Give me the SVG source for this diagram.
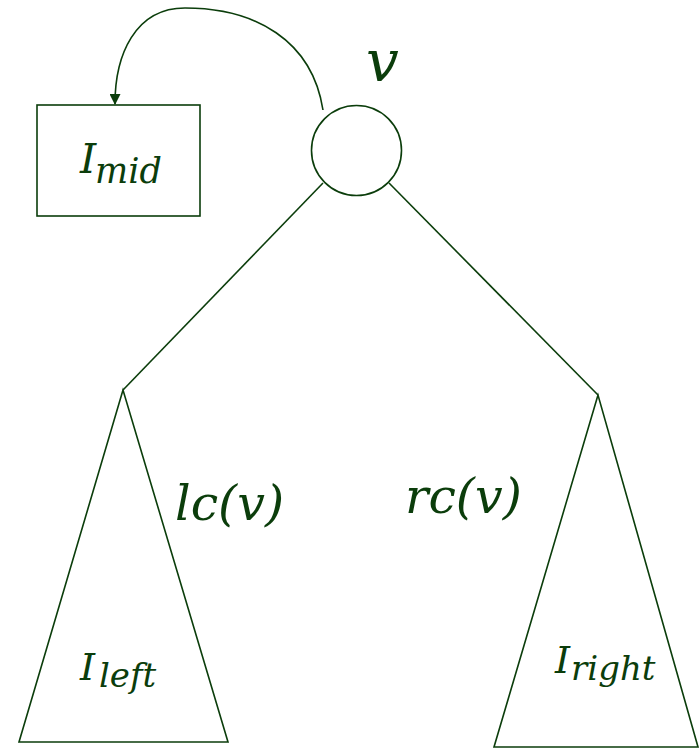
<svg xmlns="http://www.w3.org/2000/svg" width="700" height="748" viewBox="0 0 700 748">
<style>
.s{fill:none;stroke:#0b3d0b;stroke-width:1.6}
.t{fill:#0b3d0b;font-family:"DejaVu Serif","Liberation Serif",serif;font-style:italic}
</style>
<defs>
<marker id="ah" viewBox="0 0 10 10" refX="9" refY="5" markerWidth="14" markerHeight="11" markerUnits="userSpaceOnUse" orient="auto">
<path d="M0,0 L10,5 L0,10 z" fill="#0b3d0b"/>
</marker>
</defs>
<rect width="700" height="748" fill="#fff"/>
<g id="connectors">
<path class="s" d="M323,110 C312,40 255,8 185,8 C135,8 115,55 115,104" stroke-width="2.4" marker-end="url(#ah)"/>
<line class="s" x1="323" y1="183" x2="123" y2="390"/>
<line class="s" x1="389" y1="183" x2="598" y2="395"/>
</g>
<g id="v">
<circle class="s" cx="356.5" cy="150.5" r="45"/>
<text class="t" x="366" y="81" font-size="58">v</text>
</g>
<g id="mid">
<rect class="s" x="37" y="105" width="163" height="111"/>
<text class="t" x="80" y="173" font-size="41">I</text>
<text class="t" x="95" y="183" font-size="35">mid</text>
</g>
<g id="left">
<polygon class="s" points="123,390 19,742 228,742"/>
<text class="t" x="80" y="680" font-size="38">I</text>
<text class="t" x="99" y="687" font-size="34">left</text>
<text class="t" x="175" y="520" font-size="49">lc(v)</text>
</g>
<g id="right">
<polygon class="s" points="598,395 494,747 698,747"/>
<text class="t" x="555" y="673" font-size="38">I</text>
<text class="t" x="571" y="680" font-size="34">right</text>
<text class="t" x="405" y="513" font-size="49">rc(v)</text>
</g>
</svg>
